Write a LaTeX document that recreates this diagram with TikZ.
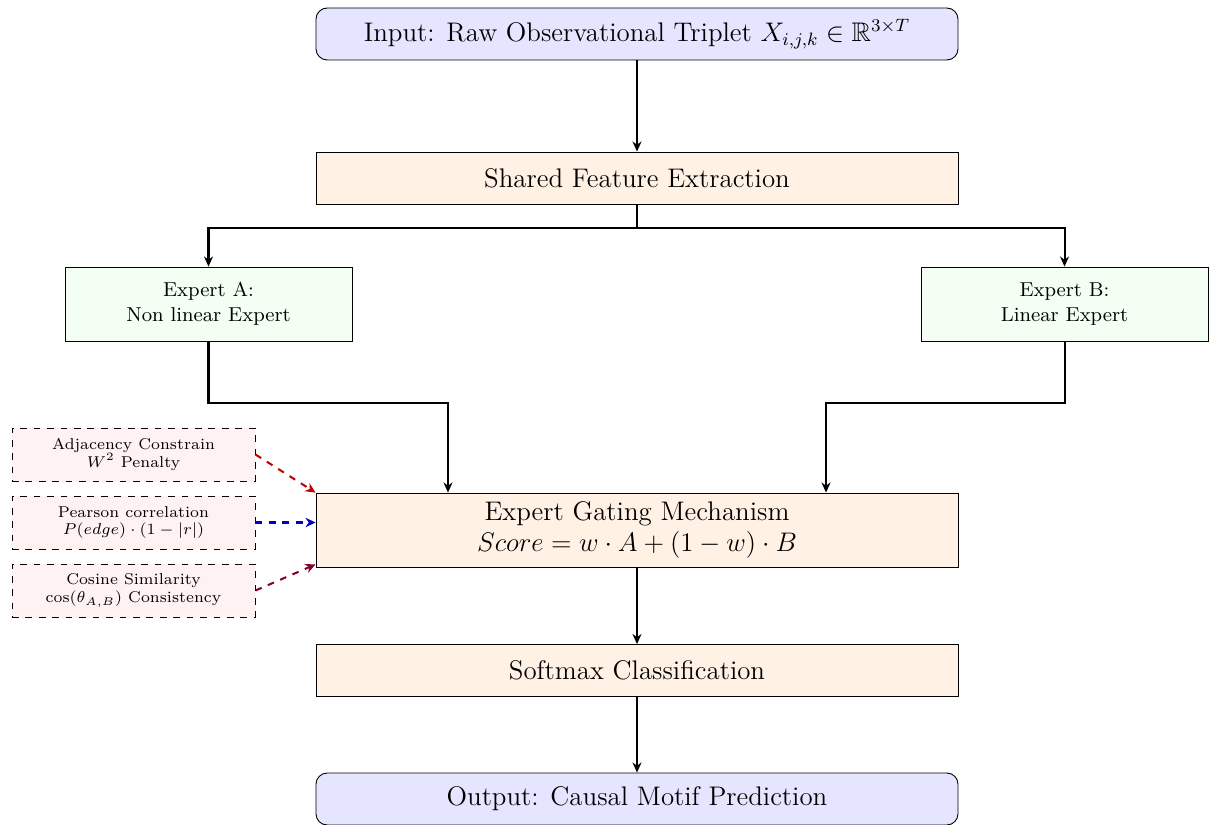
\documentclass[tikz,border=0pt]{standalone}
\usepackage{amsmath,amssymb}
\usetikzlibrary{arrows.meta,calc}
\begin{document}
\begin{tikzpicture}[x=0.4464pt,y=-0.4464pt,
  box/.style={draw, line width=0.4pt, align=center, inner sep=2pt},
  iobox/.style={box, rounded corners=5pt, fill=blue!10, minimum width=286.6pt, minimum height=23.2pt, font=\large},
  procbox/.style={box, fill=orange!10, minimum width=286.6pt, minimum height=23.2pt, font=\large},
  expbox/.style={box, fill=green!5, minimum width=128.1pt, minimum height=33pt, font=\small},
  consbox/.style={box, dashed, fill=red!5, minimum width=108.5pt, minimum height=23.7pt, font=\scriptsize},
  arr/.style={-{Stealth[length=4.5pt,width=4pt]}, line width=0.9pt},
  darr/.style={-{Stealth[length=4.5pt,width=4.2pt]}, line width=0.9pt, dashed}]
\useasboundingbox (0,0) rectangle (1220,825);
\node[iobox] (in) at (637,34) {Input: Raw Observational Triplet $X_{i,j,k} \in \mathbb{R}^{3\times T}$};
\node[procbox] (shared) at (637,178) {Shared Feature Extraction};
\node[expbox] (ea) at (208.5,304) {Expert A:\\Non linear Expert};
\node[expbox] (eb) at (1064.5,304) {Expert B:\\Linear Expert};
\node[procbox, minimum height=33pt] (gate) at (637,530) {Expert Gating Mechanism\\$Score = w\cdot A + (1-w)\cdot B$};
\node[procbox] (soft) at (637,670.5) {Softmax Classification};
\node[iobox] (out) at (637,799) {Output: Causal Motif Prediction};
\node[consbox] (c1) at (133.5,454.5) {Adjacency Constrain\\$W^{2}$ Penalty};
\node[consbox] (c2) at (133.5,522.5) {Pearson correlation\\$P(edge)\cdot(1-|r|)$};
\node[consbox] (c3) at (133.5,590.5) {Cosine Similarity\\$\cos(\theta_{A,B})$ Consistency};
\draw[arr] (in) -- (shared);
\draw[arr] (shared.south) -- ++(0,24) -| (ea.north);
\draw[arr] (shared.south) -- ++(0,24) -| (eb.north);
\draw[arr] (ea.south) -- ++(0,62) -| ($(gate.north)+(-189,0)$);
\draw[arr] (eb.south) -- ++(0,62) -| ($(gate.north)+(189,0)$);
\draw[arr] (gate) -- (soft);
\draw[arr] (soft) -- (out);
\draw[darr, red!75!black] (c1.east) -- (gate.north west);
\draw[darr, blue!75!black] (c2.east) -- (gate.west |- c2.east);
\draw[darr, purple!70!black] (c3.east) -- ($(gate.south west)+(0,-3)$);
\end{tikzpicture}
\end{document}
